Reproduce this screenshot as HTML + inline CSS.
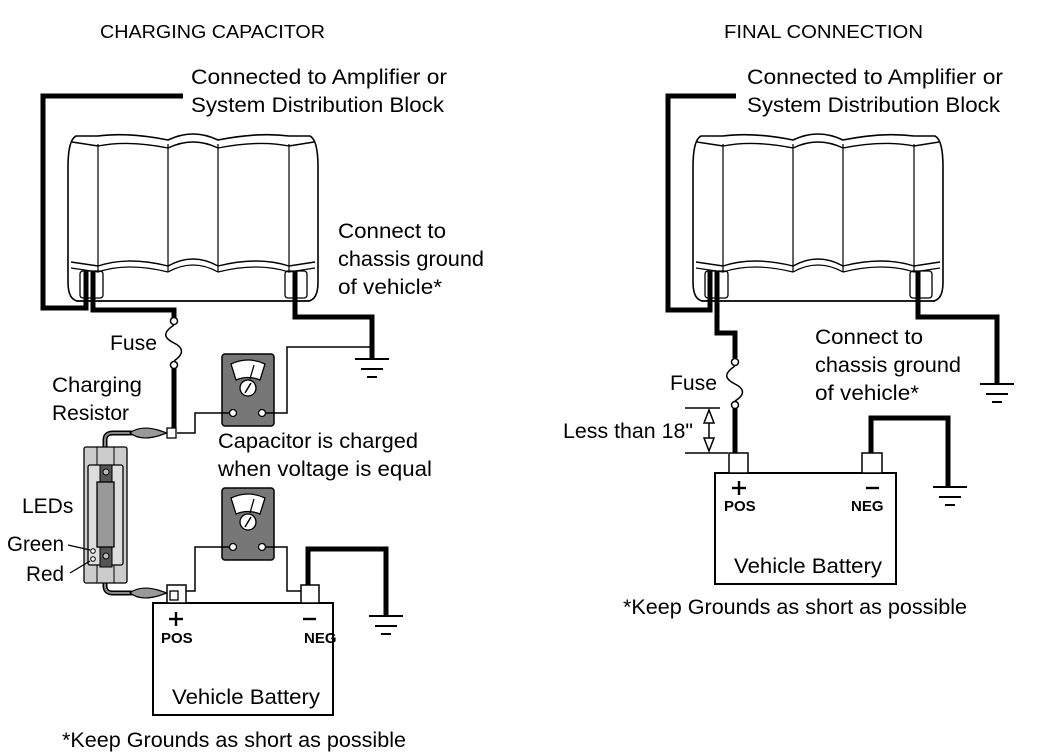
<!DOCTYPE html>
<html><head><meta charset="utf-8"><style>html,body{margin:0;padding:0;background:#fff}svg{display:block}</style></head><body>
<svg width="1042" height="756" viewBox="0 0 1042 756" xmlns="http://www.w3.org/2000/svg" font-family="Liberation Sans, sans-serif" fill="none" stroke="#000">
<defs>
<g id="cap">
  <path d="M0,35 Q0,8 8,4 L30,4 Q60,0 100,8 Q125,-4 150,8 Q190,0 221,4 L242,4 Q250,8 250,35 L250,150 Q250,168 240,169 L10,169 Q0,168 0,150 Z" stroke-width="1.6"/>
  <path d="M4,10 L30,14 Q60,8 100,16 Q125,4 150,16 Q190,8 221,14 L246,10" stroke-width="1.4"/>
  <path d="M3,130 L30,134 Q60,124 100,134 Q125,120 150,134 Q190,124 221,134 L247,130" stroke-width="1.4"/>
  <path d="M3,136 L30,140 Q60,130 100,140 Q125,126 150,140 Q190,130 221,140 L247,136" stroke-width="1.2"/>
  <line x1="30" y1="12" x2="30" y2="140" stroke-width="1.2"/>
  <line x1="100" y1="12" x2="100" y2="140" stroke-width="1.2"/>
  <line x1="150" y1="12" x2="150" y2="140" stroke-width="1.2"/>
  <line x1="221" y1="12" x2="221" y2="140" stroke-width="1.2"/>
  <rect x="12" y="139" width="23" height="27" rx="3" stroke-width="1.3"/>
  <rect x="217" y="139" width="22" height="27" rx="3" stroke-width="1.3"/>
  <line x1="8" y1="169" x2="242" y2="169" stroke-width="1.5"/>
</g>
<g id="gnd" stroke-width="2">
  <line x1="-17" y1="0" x2="17" y2="0"/><line x1="-11" y1="10" x2="11" y2="10"/><line x1="-5" y1="18" x2="5" y2="18"/>
</g>
<g id="meter">
  <rect x="0" y="0" width="52" height="72" rx="3" fill="#777" stroke-width="1.5"/>
  <path d="M9,10 Q26,2 43,10 L38,26 Q26,21 14,26 Z" fill="#fff" stroke-width="1.3"/>
  <line x1="28" y1="25" x2="32" y2="11" stroke-width="1.3"/>
  <circle cx="26" cy="34" r="8" fill="#fff" stroke-width="1.3"/>
  <line x1="23" y1="39" x2="29" y2="29" stroke-width="1.5"/>
  <circle cx="11" cy="59" r="3.5" fill="#fff" stroke-width="1.3"/>
  <circle cx="40" cy="59" r="3.5" fill="#fff" stroke-width="1.3"/>
</g>
</defs>

<g font-size="18" fill="#000" stroke="none">
<text x="100" y="38" textLength="225" lengthAdjust="spacingAndGlyphs">CHARGING CAPACITOR</text>
<text x="724" y="38" textLength="199" lengthAdjust="spacingAndGlyphs">FINAL CONNECTION</text>
</g>
<g font-size="21" fill="#000" stroke="none">
<text x="191" y="84" textLength="256" lengthAdjust="spacingAndGlyphs">Connected to Amplifier or</text>
<text x="191" y="112" textLength="253" lengthAdjust="spacingAndGlyphs">System Distribution Block</text>
<text x="747" y="84" textLength="256" lengthAdjust="spacingAndGlyphs">Connected to Amplifier or</text>
<text x="747" y="112" textLength="253" lengthAdjust="spacingAndGlyphs">System Distribution Block</text>
<text x="338" y="238" textLength="108" lengthAdjust="spacingAndGlyphs">Connect to</text>
<text x="338" y="266" textLength="146" lengthAdjust="spacingAndGlyphs">chassis ground</text>
<text x="338" y="294" textLength="104" lengthAdjust="spacingAndGlyphs">of vehicle*</text>
<text x="815" y="344" textLength="108" lengthAdjust="spacingAndGlyphs">Connect to</text>
<text x="815" y="372" textLength="146" lengthAdjust="spacingAndGlyphs">chassis ground</text>
<text x="815" y="400" textLength="104" lengthAdjust="spacingAndGlyphs">of vehicle*</text>
<text x="110" y="350" textLength="47" lengthAdjust="spacingAndGlyphs">Fuse</text>
<text x="670" y="390" textLength="47" lengthAdjust="spacingAndGlyphs">Fuse</text>
<text x="52" y="392" textLength="90" lengthAdjust="spacingAndGlyphs">Charging</text>
<text x="52" y="420" textLength="77" lengthAdjust="spacingAndGlyphs">Resistor</text>
<text x="218" y="448" textLength="200" lengthAdjust="spacingAndGlyphs">Capacitor is charged</text>
<text x="218" y="476" textLength="214" lengthAdjust="spacingAndGlyphs">when voltage is equal</text>
<text x="22" y="513">LEDs</text>
<text x="7" y="551" textLength="57" lengthAdjust="spacingAndGlyphs">Green</text>
<text x="26" y="581" textLength="38" lengthAdjust="spacingAndGlyphs">Red</text>
<text x="563" y="438" textLength="130" lengthAdjust="spacingAndGlyphs">Less than 18"</text>
<text x="172" y="704" textLength="148" lengthAdjust="spacingAndGlyphs">Vehicle Battery</text>
<text x="734" y="573" textLength="148" lengthAdjust="spacingAndGlyphs">Vehicle Battery</text>
<text x="62" y="747" textLength="344" lengthAdjust="spacingAndGlyphs">*Keep Grounds as short as possible</text>
<text x="623" y="614" textLength="344" lengthAdjust="spacingAndGlyphs">*Keep Grounds as short as possible</text>
</g>
<g font-size="15" font-weight="bold" fill="#000" stroke="none">
<text x="161" y="643">POS</text><text x="304" y="643">NEG</text>
<text x="724" y="511">POS</text><text x="851" y="511">NEG</text>
</g>
<g stroke-width="2.4">
<line x1="176" y1="612" x2="176" y2="626"/><line x1="169" y1="619" x2="183" y2="619"/>
<line x1="303" y1="619" x2="316" y2="619"/>
<line x1="739" y1="481" x2="739" y2="495"/><line x1="732" y1="488" x2="746" y2="488"/>
<line x1="866" y1="488" x2="879" y2="488"/>
</g>

<!-- LEFT -->
<use href="#cap" x="68" y="132"/>
<g stroke-width="5" stroke-linejoin="miter">
<polyline points="183,96 43,96 43,308 86,308 86,271"/>
<polyline points="93,271 93,310 174,310 174,320"/>
<polyline points="174,366 174,433"/>
<polyline points="295,271 295,317 372,317 372,359"/>
<polyline points="308,585 308,549 386,549 386,615"/>
</g>
<circle cx="174" cy="321" r="3.5" fill="#fff" stroke-width="1.5"/>
<circle cx="174" cy="365" r="3.5" fill="#fff" stroke-width="1.5"/>
<path d="M174,325 C162,333 164,338 174,343 C184,348 184,354 174,361" stroke-width="1.5"/>
<use href="#gnd" x="372" y="359"/>
<use href="#gnd" x="386" y="616"/>
<use href="#meter" x="222" y="354"/>
<use href="#meter" x="222" y="488"/>
<g stroke-width="1.5">
<polyline points="266,413 287,413 287,347 372,347"/>
<polyline points="229,413 195,413 195,433 177,433"/>
<polyline points="229,547 195,547 195,591 178,591"/>
<polyline points="266,547 287,547 287,591 301,591"/>
</g>
<!-- resistor -->
<path d="M105,447 L105,440 Q105,433 113,433 L132,433" stroke-width="5"/>
<path d="M105,447 L105,440 Q105,433 113,433 L132,433" stroke="#888" stroke-width="2"/>
<path d="M105,583 L105,586 Q105,593 113,593 L132,593" stroke-width="5"/>
<path d="M105,583 L105,586 Q105,593 113,593 L132,593" stroke="#888" stroke-width="2"/>
<path d="M130,433 Q140,425 158,430 L167,433 L158,436 Q140,441 130,433 Z" fill="#999" stroke-width="1.2"/>
<path d="M130,593 Q140,585 158,590 L167,593 L158,596 Q140,601 130,593 Z" fill="#999" stroke-width="1.2"/>
<rect x="167" y="428" width="9" height="10" fill="#fff" stroke-width="1.3"/>
<rect x="84" y="447" width="43" height="136" rx="2" fill="#ccc" stroke-width="1.3"/>
<line x1="97" y1="447" x2="97" y2="583" stroke-width="1"/><line x1="114" y1="447" x2="114" y2="583" stroke-width="1"/>
<rect x="88" y="465" width="35" height="100" rx="2" fill="#ddd" stroke-width="1.3"/>
<rect x="100" y="465" width="12" height="102" fill="#555" stroke-width="1"/>
<circle cx="106" cy="472" r="3" fill="#bbb" stroke-width="1"/><circle cx="106" cy="556" r="3" fill="#bbb" stroke-width="1"/>
<rect x="97" y="482" width="17" height="65" fill="#999" stroke-width="1.3"/>
<circle cx="93" cy="551" r="2.3" fill="#fff" stroke-width="1"/><circle cx="93" cy="559" r="2.3" fill="#fff" stroke-width="1"/>
<line x1="68" y1="545" x2="90" y2="550" stroke-width="1.3"/>
<line x1="70" y1="573" x2="90" y2="561" stroke-width="1.3"/>
<!-- battery left -->
<rect x="153" y="603" width="180" height="112" stroke-width="2"/>
<rect x="167" y="585" width="19" height="18" fill="#fff" stroke-width="1.5"/>
<rect x="170" y="591" width="8" height="9" fill="#fff" stroke-width="1.3"/>
<rect x="301" y="585" width="18" height="18" fill="#fff" stroke-width="1.5"/>

<!-- RIGHT -->
<use href="#cap" x="693" y="132"/>
<g stroke-width="5">
<polyline points="736,96 668,96 668,310 710,310 710,271"/>
<polyline points="717,271 717,333 735,333 735,358"/>
<polyline points="735,408 735,453"/>
<polyline points="918,271 918,317 997,317 997,383"/>
<polyline points="871,453 871,418 948,418 948,486"/>
</g>
<circle cx="735" cy="362" r="3.5" fill="#fff" stroke-width="1.5"/>
<circle cx="735" cy="405" r="3.5" fill="#fff" stroke-width="1.5"/>
<path d="M735,366 C723,374 725,379 735,384 C745,389 745,395 735,401" stroke-width="1.5"/>
<use href="#gnd" x="997" y="384"/>
<use href="#gnd" x="950" y="487"/>
<g stroke-width="1.5">
<line x1="685" y1="408" x2="720" y2="408"/><line x1="685" y1="453" x2="728" y2="453"/>
<line x1="709" y1="410" x2="709" y2="451"/>
<path d="M704,423 L709,410 L714,423 Z" fill="#fff"/>
<path d="M704,438 L709,451 L714,438 Z" fill="#fff"/>
</g>
<rect x="715" y="473" width="181" height="111" stroke-width="2"/>
<rect x="729" y="453" width="19" height="20" fill="#fff" stroke-width="1.5"/>
<rect x="862" y="453" width="20" height="20" fill="#fff" stroke-width="1.5"/>
</svg>
</body></html>
